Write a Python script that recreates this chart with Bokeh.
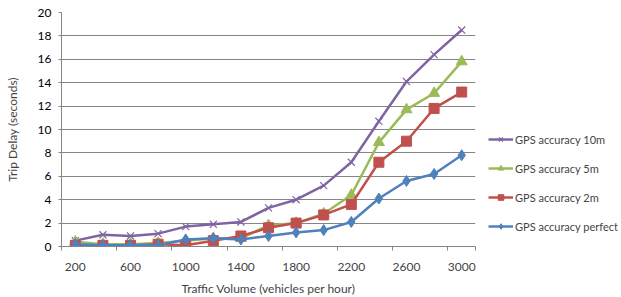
from bokeh.plotting import figure
from bokeh.models import (Range1d, LinearAxis, FixedTicker, Legend, LegendItem,
                          ColumnDataSource, CustomLabelingPolicy)
from bokeh.embed import file_html
from bokeh.resources import INLINE

volumes = [200, 400, 600, 800, 1000, 1200, 1400, 1600, 1800, 2000, 2200, 2400, 2600, 2800, 3000]
gps_10m = [0.5, 1.0, 0.9, 1.1, 1.7, 1.9, 2.1, 3.3, 4.0, 5.2, 7.2, 10.7, 14.1, 16.4, 18.5]
gps_5m = [0.4, 0.2, 0.2, 0.3, 0.5, 0.7, 0.7, 1.8, 2.0, 2.8, 4.4, 8.9, 11.7, 13.1, 15.8]
gps_2m = [0.1, 0.1, 0.1, 0.2, 0.1, 0.5, 0.9, 1.6, 2.0, 2.7, 3.6, 7.2, 9.0, 11.8, 13.2]
gps_perfect = [0.2, 0.1, 0.1, 0.1, 0.6, 0.7, 0.6, 0.9, 1.2, 1.4, 2.1, 4.1, 5.6, 6.2, 7.8]
y_ticks = list(range(0, 21, 2))

FONT = "Lato"
n = len(volumes)
idx = list(range(n))

p = figure(width=621, height=297, output_backend="svg", toolbar_location=None,
           x_range=Range1d(-0.5, n - 0.5), y_range=Range1d(0, 20),
           x_axis_location=None, y_axis_location=None,
           min_border_left=61, min_border_top=12, min_border_bottom=0,
           min_border_right=0, outline_line_color=None)
p.frame_width = 414
p.frame_height = 234

# y axis
yax = LinearAxis(ticker=FixedTicker(ticks=y_ticks))
yax.axis_line_color = "#868686"
yax.major_tick_line_color = "#868686"
yax.major_tick_out = 3
yax.major_tick_in = 0
yax.minor_tick_line_color = None
yax.major_label_text_font = FONT
yax.major_label_text_font_size = "12px"
yax.major_label_text_color = "#000000"
yax.major_label_standoff = 7
yax.axis_label = "Trip Delay (seconds)"
yax.axis_label_text_font = FONT
yax.axis_label_text_font_size = "12px"
yax.axis_label_text_font_style = "normal"
yax.axis_label_standoff = 15
p.add_layout(yax, "left")

# x axis: tick marks at category boundaries (no labels)
xtick = LinearAxis(ticker=FixedTicker(ticks=[i - 0.5 for i in idx[::2]] + [n - 0.5]))
xtick.axis_line_color = "#868686"
xtick.major_tick_line_color = "#868686"
xtick.major_tick_out = 4
xtick.major_tick_in = 0
xtick.minor_tick_line_color = None
xtick.major_label_policy = CustomLabelingPolicy(code="return new Set()")
xtick.major_label_standoff = 0
p.add_layout(xtick, "below")

# x axis: labels at category centres
xlab = LinearAxis(ticker=FixedTicker(ticks=idx[::2]))
xlab.major_label_overrides = {i: str(volumes[i]) for i in idx}
xlab.axis_line_color = None
xlab.major_tick_line_color = None
xlab.minor_tick_line_color = None
xlab.major_tick_out = 0
xlab.major_label_text_font = FONT
xlab.major_label_text_font_size = "12px"
xlab.major_label_standoff = 1
xlab.axis_label = "Traffic Volume (vehicles per hour)"
xlab.axis_label_text_font = FONT
xlab.axis_label_text_font_size = "12px"
xlab.axis_label_text_font_style = "normal"
xlab.axis_label_standoff = 7
p.add_layout(xlab, "below")

p.xgrid.visible = False
p.ygrid.ticker = FixedTicker(ticks=y_ticks)
p.ygrid.grid_line_color = "#868686"
p.ygrid.grid_line_width = 1

src = ColumnDataSource(dict(x=idx, a=gps_10m, b=gps_5m, c=gps_2m, d=gps_perfect))

purple, green, red, blue = "#8064A2", "#9BBB59", "#C0504D", "#4F81BD"
lw = 2.5

l1 = p.line("x", "a", source=src, line_color=purple, line_width=lw)
m1 = p.scatter("x", "a", source=src, marker="x", size=10, line_color=purple, line_width=1.2)
l2 = p.line("x", "b", source=src, line_color=green, line_width=lw)
m2 = p.scatter("x", "b", source=src, marker="triangle", size=11, fill_color=green, line_color=green)
l3 = p.line("x", "c", source=src, line_color=red, line_width=lw)
m3 = p.scatter("x", "c", source=src, marker="square", size=10, fill_color=red, line_color=red)
l4 = p.line("x", "d", source=src, line_color=blue, line_width=lw)
m4 = p.scatter("x", "d", source=src, marker="diamond", size=11, fill_color=blue, line_color=blue)

legend = Legend(items=[
    LegendItem(label="GPS accuracy 10m", renderers=[l1, m1]),
    LegendItem(label="GPS accuracy 5m", renderers=[l2, m2]),
    LegendItem(label="GPS accuracy 2m", renderers=[l3, m3]),
    LegendItem(label="GPS accuracy perfect", renderers=[l4, m4]),
])
legend.location = (13, 13)
legend.border_line_color = None
legend.background_fill_alpha = 0
legend.label_text_font = FONT
legend.label_text_font_size = "11px"
legend.glyph_width = 25
legend.glyph_height = 14
legend.label_standoff = 2
legend.spacing = 15
legend.padding = 0
legend.margin = 0
p.add_layout(legend, "right")

open("out.html", "w").write(file_html(p, INLINE))
